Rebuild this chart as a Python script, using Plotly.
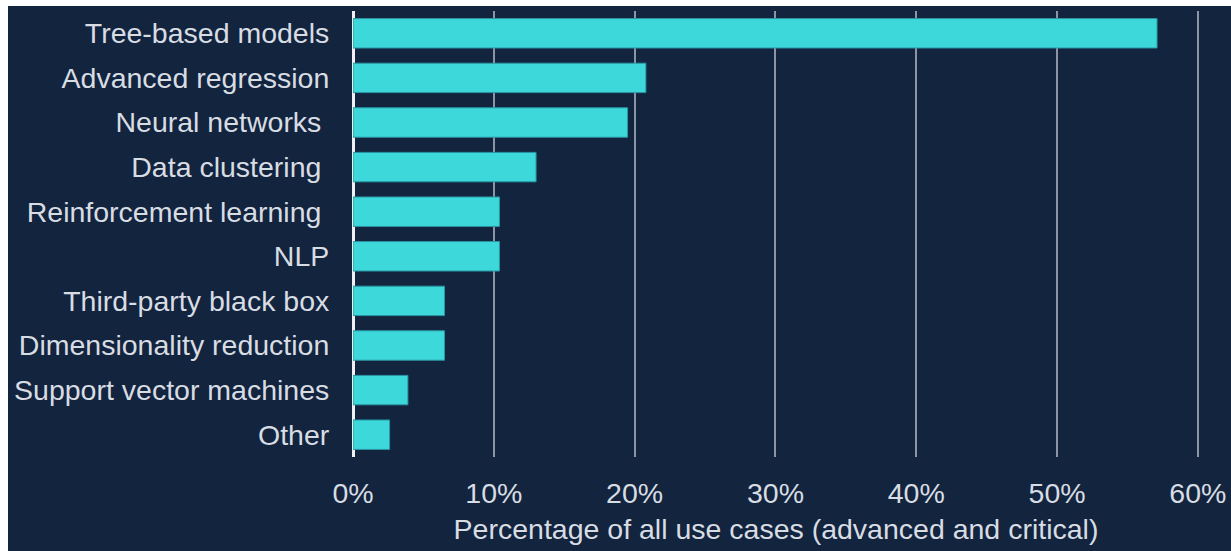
import plotly.graph_objects as go

categories = [
    "Tree-based models",
    "Advanced regression",
    "Neural networks\u00a0",
    "Data clustering\u00a0",
    "Reinforcement learning\u00a0",
    "NLP",
    "Third-party black box",
    "Dimensionality reduction",
    "Support vector machines",
    "Other",
]
values = [0.571, 0.208, 0.195, 0.130, 0.104, 0.104, 0.065, 0.065, 0.039, 0.026]
tick_vals = [0, 0.1, 0.2, 0.3, 0.4, 0.5, 0.6]
tick_text = ["0%", "10%", "20%", "30%", "40%", "50%", "60%"]
x_title = "Percentage of all use cases (advanced and critical)"

BG = "#12243e"
BAR = "#3dd8da"
TXT = "#d8dce3"
GRID = "#8b95a4"

W, H = 1231, 551
ML, MR, MT, MB = 353, 32, 11, 94
pw = W - ML - MR
ph = H - MT - MB

fig = go.Figure(
    go.Bar(
        x=values,
        y=categories,
        orientation="h",
        width=0.66,
        marker=dict(color=BAR, line=dict(color="#2b96a3", width=1)),
        hoverinfo="skip",
    )
)

fig.add_shape(
    type="rect", xref="paper", yref="paper", layer="below",
    x0=(8 - ML) / pw, x1=(W - ML) / pw + 0.01,
    y0=-(MB + 5) / ph, y1=1 + (MT - 6) / ph,
    fillcolor=BG, line=dict(width=0),
)

FS = 28.5

fig.update_layout(
    width=W, height=H,
    margin=dict(l=ML, r=MR, t=MT, b=MB, pad=0, autoexpand=False),
    paper_bgcolor="white",
    plot_bgcolor=BG,
    font=dict(family="Liberation Sans, Arial, sans-serif", size=FS, color=TXT),
    showlegend=False,
    xaxis=dict(
        range=[0, 0.6008],
        tickvals=tick_vals,
        ticktext=tick_text,
        showgrid=True,
        gridcolor=GRID,
        gridwidth=1.5,
        zeroline=True,
        zerolinecolor="#eef0f3",
        zerolinewidth=2.5,
        ticks="outside",
        ticklen=11,
        tickcolor="rgba(0,0,0,0)",
        tickfont=dict(size=FS, color=TXT),
        title=dict(text=x_title, font=dict(size=FS, color=TXT), standoff=10),
        automargin=False,
        fixedrange=True,
    ),
    yaxis=dict(
        autorange="reversed",
        categoryorder="array",
        categoryarray=categories,
        showgrid=False,
        ticks="outside",
        ticklen=17,
        tickcolor="rgba(0,0,0,0)",
        tickfont=dict(size=FS, color=TXT),
        automargin=False,
        fixedrange=True,
    ),
)

fig.write_html("out.html", config={"displayModeBar": False})
